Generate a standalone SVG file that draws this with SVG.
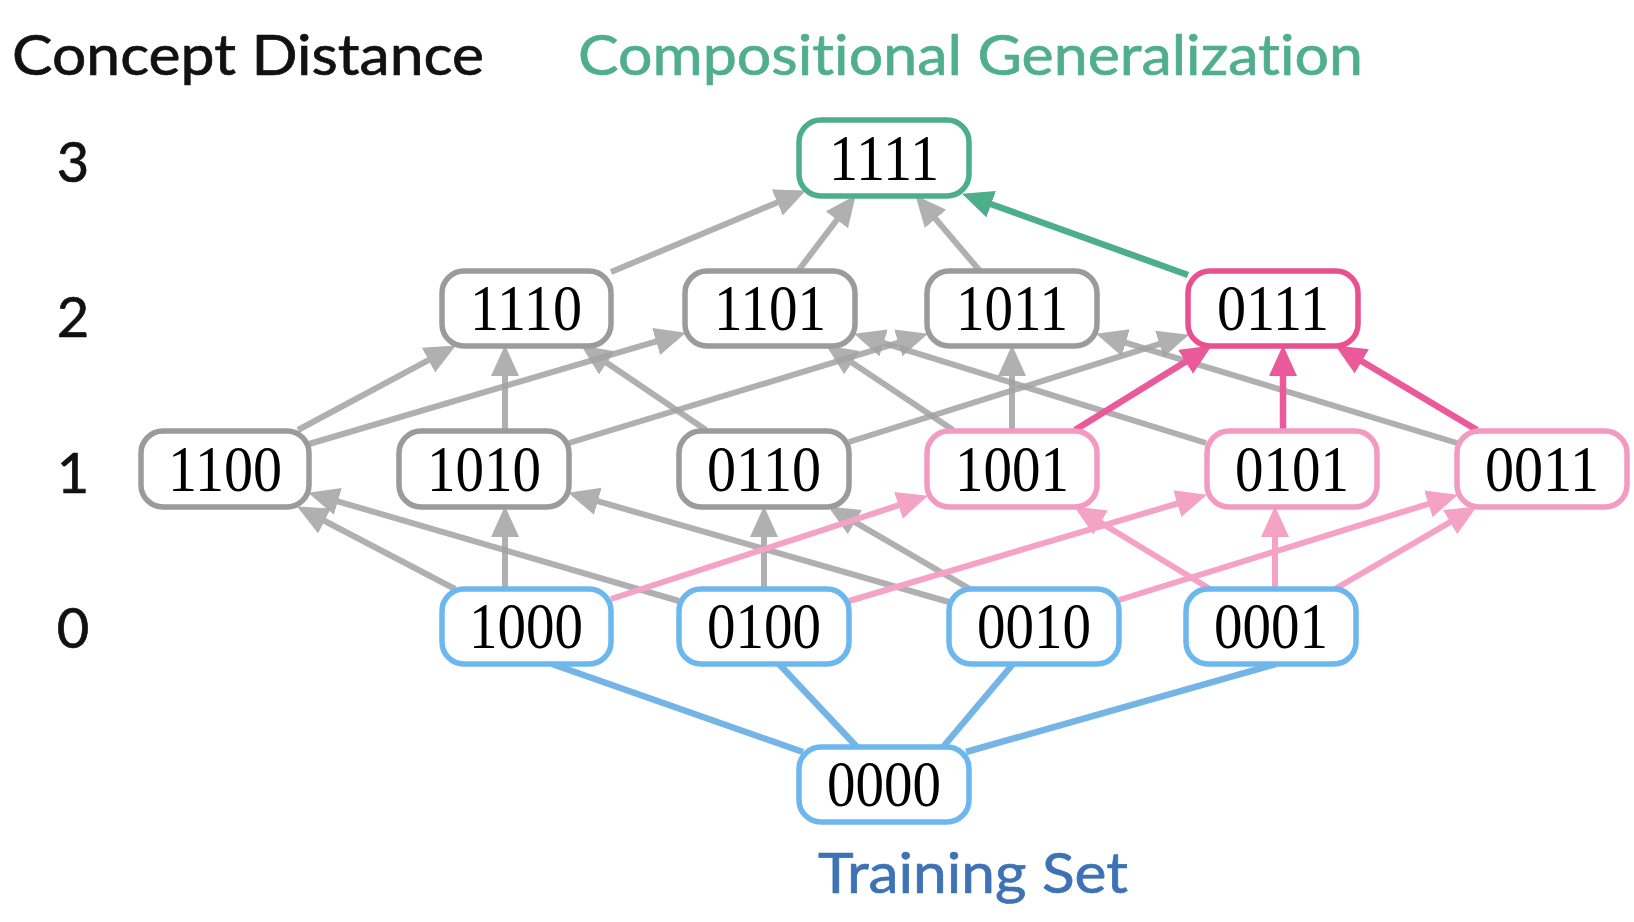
<svg xmlns="http://www.w3.org/2000/svg" width="1634" height="922" viewBox="0 0 1634 922">
<style>
.t{font-family:"Lato","Noto Sans",sans-serif;font-variant-ligatures:none}
.t text{stroke-width:0.7}
.n rect{fill:#fff;stroke-width:5.5}
.n text{font-family:"Liberation Serif","Times New Roman",serif;font-size:65px;fill:#000;text-anchor:middle}
.g rect{stroke:#9b9b9b}
.gr rect{stroke:#4dae8c}
.pd rect{stroke:#e8508f}
.pl rect{stroke:#f29ac1}
.b rect{stroke:#6cb8ee}
.eg{stroke:#a3a3a3;stroke-width:6;fill:none;opacity:0.85}
.epl{stroke:#f4a3c6;stroke-width:6;fill:none}
.epd{stroke:#ea5a9b;stroke-width:6.5;fill:none}
.egr{stroke:#4dae8c;stroke-width:6.5;fill:none}
.eb{stroke:#74b5e6;stroke-width:6.5;fill:none}
</style>
<defs>
<marker id="ag" markerUnits="userSpaceOnUse" markerWidth="34" markerHeight="30" refX="2" refY="14" orient="auto"><path d="M0,0 L31,14 L0,28 z" fill="#a3a3a3"/></marker>
<marker id="apl" markerUnits="userSpaceOnUse" markerWidth="34" markerHeight="30" refX="2" refY="14" orient="auto"><path d="M0,0 L31,14 L0,28 z" fill="#f4a3c6"/></marker>
<marker id="apd" markerUnits="userSpaceOnUse" markerWidth="34" markerHeight="30" refX="2" refY="14" orient="auto"><path d="M0,0 L31,14 L0,28 z" fill="#ea5a9b"/></marker>
<marker id="agr" markerUnits="userSpaceOnUse" markerWidth="34" markerHeight="30" refX="2" refY="14" orient="auto"><path d="M0,0 L31,14 L0,28 z" fill="#4dae8c"/></marker>
</defs>
<rect width="1634" height="922" fill="#fff"/>
<g id="titles" class="t">
<text x="12" y="75" font-size="56" fill="#111" stroke="#111" textLength="472" lengthAdjust="spacingAndGlyphs">Concept Distance</text>
<text x="578" y="75" font-size="56" fill="#4fae8e" stroke="#4fae8e" textLength="785" lengthAdjust="spacingAndGlyphs">Compositional Generalization</text>
<text x="818" y="893" font-size="56" fill="#3d72b4" stroke="#3d72b4" textLength="310" lengthAdjust="spacingAndGlyphs">Training Set</text>
<text x="73" y="182" font-size="56" fill="#111" stroke="#111" text-anchor="middle">3</text>
<text x="73" y="337" font-size="56" fill="#111" stroke="#111" text-anchor="middle">2</text>
<text x="73" y="493" font-size="56" fill="#111" stroke="#111" text-anchor="middle">1</text>
<text x="73" y="648" font-size="56" fill="#111" stroke="#111" text-anchor="middle">0</text>
</g>
<g id="connectors">
<path class="eb" d="M552,664 L803,752"/>
<path class="eb" d="M779,664 L857,747"/>
<path class="eb" d="M1013,664 L943,747"/>
<path class="eb" d="M1276,664 L966,752"/>
<path class="eg" marker-end="url(#ag)" d="M455,589 L322.8,520"/>
<path class="eg" marker-end="url(#ag)" d="M679,601 L335.9,500.8"/>
<path class="eg" marker-end="url(#ag)" d="M505,589 L505,535"/>
<path class="eg" marker-end="url(#ag)" d="M949,602 L595.9,500.7"/>
<path class="eg" marker-end="url(#ag)" d="M764,589 L764,535"/>
<path class="eg" marker-end="url(#ag)" d="M970,589 L853.2,521.1"/>
<path class="epl" marker-end="url(#apl)" d="M611,599 L900.4,504.7"/>
<path class="epl" marker-end="url(#apl)" d="M849,601 L1179.2,503"/>
<path class="epl" marker-end="url(#apl)" d="M1119,600 L1430.3,503.3"/>
<path class="epl" marker-end="url(#apl)" d="M1210,589 L1098.9,521.5"/>
<path class="epl" marker-end="url(#apl)" d="M1275,589 L1275,535"/>
<path class="epl" marker-end="url(#apl)" d="M1335,589 L1451.8,521.1"/>
<path class="eg" marker-end="url(#ag)" d="M298,430 L430.3,359.2"/>
<path class="eg" marker-end="url(#ag)" d="M309,444 L658.1,340.9"/>
<path class="eg" marker-end="url(#ag)" d="M505,430 L505,374"/>
<path class="eg" marker-end="url(#ag)" d="M569,443 L900.2,342.2"/>
<path class="eg" marker-end="url(#ag)" d="M706,430 L605.2,361.7"/>
<path class="eg" marker-end="url(#ag)" d="M849,442 L1161.3,343.4"/>
<path class="eg" marker-end="url(#ag)" d="M953,430 L850.3,361.5"/>
<path class="eg" marker-end="url(#ag)" d="M1012,430 L1012,374"/>
<path class="eg" marker-end="url(#ag)" d="M1206,443 L881.7,342.3"/>
<path class="eg" marker-end="url(#ag)" d="M1457,443 L1123.8,342.1"/>
<path class="epd" marker-end="url(#apd)" d="M1075,430 L1187.2,360.7"/>
<path class="epd" marker-end="url(#apd)" d="M1283,430 L1283,374"/>
<path class="epd" marker-end="url(#apd)" d="M1477,430 L1360.1,360.3"/>
<path class="eg" marker-end="url(#ag)" d="M611,272 L779.1,201.7"/>
<path class="eg" marker-end="url(#ag)" d="M798,271 L838.1,218.3"/>
<path class="eg" marker-end="url(#ag)" d="M980,271 L934.2,217.3"/>
<path class="egr" marker-end="url(#agr)" d="M1188,275 L989.3,203.5"/>
</g>
<g id="n1111" class="n gr"><rect x="799" y="120" width="170" height="76" rx="22"/><text x="884" y="180" textLength="110" lengthAdjust="spacingAndGlyphs">1111</text></g>
<g id="n1110" class="n g"><rect x="442" y="271" width="169" height="75" rx="22"/><text x="526" y="330" textLength="112" lengthAdjust="spacingAndGlyphs">1110</text></g>
<g id="n1101" class="n g"><rect x="685" y="271" width="170" height="75" rx="22"/><text x="770" y="330" textLength="112" lengthAdjust="spacingAndGlyphs">1101</text></g>
<g id="n1011" class="n g"><rect x="927" y="271" width="170" height="75" rx="22"/><text x="1012" y="330" textLength="112" lengthAdjust="spacingAndGlyphs">1011</text></g>
<g id="n0111" class="n pd"><rect x="1188" y="271" width="170" height="75" rx="22"/><text x="1273" y="330" textLength="112" lengthAdjust="spacingAndGlyphs">0111</text></g>
<g id="n1100" class="n g"><rect x="141" y="431" width="168" height="76" rx="22"/><text x="225" y="491" textLength="114" lengthAdjust="spacingAndGlyphs">1100</text></g>
<g id="n1010" class="n g"><rect x="399" y="431" width="170" height="76" rx="22"/><text x="484" y="491" textLength="114" lengthAdjust="spacingAndGlyphs">1010</text></g>
<g id="n0110" class="n g"><rect x="679" y="431" width="170" height="76" rx="22"/><text x="764" y="491" textLength="114" lengthAdjust="spacingAndGlyphs">0110</text></g>
<g id="n1001" class="n pl"><rect x="927" y="431" width="170" height="76" rx="22"/><text x="1012" y="491" textLength="114" lengthAdjust="spacingAndGlyphs">1001</text></g>
<g id="n0101" class="n pl"><rect x="1207" y="431" width="170" height="76" rx="22"/><text x="1292" y="491" textLength="114" lengthAdjust="spacingAndGlyphs">0101</text></g>
<g id="n0011" class="n pl"><rect x="1457" y="431" width="170" height="76" rx="22"/><text x="1542" y="491" textLength="114" lengthAdjust="spacingAndGlyphs">0011</text></g>
<g id="n1000" class="n b"><rect x="442" y="589" width="169" height="75" rx="22"/><text x="526" y="648" textLength="114" lengthAdjust="spacingAndGlyphs">1000</text></g>
<g id="n0100" class="n b"><rect x="679" y="589" width="170" height="75" rx="22"/><text x="764" y="648" textLength="114" lengthAdjust="spacingAndGlyphs">0100</text></g>
<g id="n0010" class="n b"><rect x="949" y="589" width="170" height="75" rx="22"/><text x="1034" y="648" textLength="114" lengthAdjust="spacingAndGlyphs">0010</text></g>
<g id="n0001" class="n b"><rect x="1186" y="589" width="170" height="75" rx="22"/><text x="1271" y="648" textLength="114" lengthAdjust="spacingAndGlyphs">0001</text></g>
<g id="n0000" class="n b"><rect x="799" y="747" width="170" height="75" rx="22"/><text x="884" y="806" textLength="114" lengthAdjust="spacingAndGlyphs">0000</text></g>
</svg>
